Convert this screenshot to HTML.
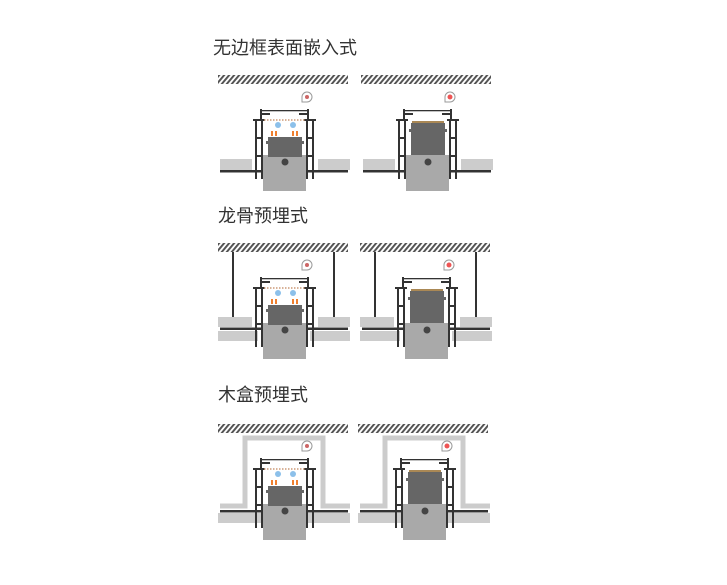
<!DOCTYPE html>
<html><head><meta charset="utf-8"><style>
html,body{margin:0;padding:0;background:#fff;width:727px;height:585px;overflow:hidden}
svg{display:block}
text{font-family:"Liberation Sans","Noto Sans CJK SC",sans-serif;fill:#333;font-size:18px}
</style></head><body>
<svg width="727" height="585" viewBox="0 0 727 585" xmlns="http://www.w3.org/2000/svg">
<defs>
<pattern id="h" width="5" height="9" patternUnits="userSpaceOnUse" patternTransform="skewX(-40)">
<rect width="5" height="9" fill="#fff"/><rect width="2.6" height="9" fill="#555"/>
</pattern>
<g id="bl">
<rect x="2" y="0" width="43" height="2.5" fill="#333"/>
<rect x="88" y="0" width="42" height="2.5" fill="#333"/>
</g>
<g id="fix">
<rect x="37" y="44" width="2" height="60" fill="#333"/>
<rect x="43" y="44" width="2" height="60" fill="#333"/>
<rect x="88" y="44" width="2" height="60" fill="#333"/>
<rect x="94" y="44" width="2" height="60" fill="#333"/>
<rect x="35" y="44" width="12" height="2" fill="#333"/>
<rect x="86" y="44" width="12" height="2" fill="#333"/>
<rect x="39" y="62" width="5" height="2" fill="#333"/><rect x="89" y="62" width="5" height="2" fill="#333"/>
<rect x="39" y="80" width="5" height="2" fill="#333"/><rect x="89" y="80" width="5" height="2" fill="#333"/>
<rect x="42" y="34" width="2" height="12" fill="#333"/><rect x="89" y="34" width="2" height="12" fill="#333"/>
<rect x="42" y="35" width="49" height="1.3" fill="#333"/>
<rect x="44" y="38" width="8" height="2" fill="#333"/><rect x="81" y="38" width="8" height="2" fill="#333"/>
<rect x="45" y="80" width="43" height="36" fill="#a9a9a9"/>
<circle cx="67" cy="87" r="3.5" fill="#444"/>
</g>
<g id="modA">
<line x1="46" y1="45" x2="88" y2="45" stroke="#c97" stroke-width="1.5" stroke-dasharray="1.5 1.5"/>
<circle cx="60" cy="50" r="3" fill="#8cc0ea"/><circle cx="75" cy="50" r="3" fill="#8cc0ea"/>
<rect x="53" y="56" width="2" height="5" fill="#f08030"/><rect x="57" y="56" width="2" height="5" fill="#f08030"/>
<rect x="74" y="56" width="2" height="5" fill="#f08030"/><rect x="78" y="56" width="2" height="5" fill="#f08030"/>
<rect x="50" y="62" width="34" height="20" fill="#666"/>
<rect x="48" y="66" width="38" height="3" fill="#666"/>
<path d="M84 27 L84 22 A5 5 0 1 1 89 27 Z" fill="#fff" stroke="#999"/><circle cx="89" cy="22" r="2" fill="#c66"/>
</g>
<g id="modB">
<rect x="51" y="46" width="32" height="2" fill="#a85"/>
<rect x="50" y="48" width="34" height="32" fill="#666"/>
<rect x="48" y="54" width="38" height="3" fill="#666"/>
<path d="M84 27 L84 22 A5 5 0 1 1 89 27 Z" fill="#fff" stroke="#999"/><circle cx="89" cy="22" r="2.5" fill="#e55"/>
</g>
</defs>

<text x="213" y="54">无边框表面嵌入式</text>
<text x="218" y="222">龙骨预埋式</text>
<text x="218" y="401">木盒预埋式</text>

<g transform="translate(218,75)">
<rect x="0" y="0" width="130" height="9" fill="url(#h)"/>
<rect x="2" y="84" width="32" height="11" fill="#ccc"/><rect x="100" y="84" width="32" height="11" fill="#ccc"/>
<use href="#fix"/><use href="#modA"/><use href="#bl" y="95"/>
</g>
<g transform="translate(361,75)">
<rect x="0" y="0" width="130" height="9" fill="url(#h)"/>
<rect x="2" y="84" width="32" height="11" fill="#ccc"/><rect x="100" y="84" width="32" height="11" fill="#ccc"/>
<use href="#fix"/><use href="#modB"/><use href="#bl" y="95"/>
</g>

<g transform="translate(218,243)">
<rect x="0" y="0" width="130" height="9" fill="url(#h)"/>
<rect x="14" y="9" width="2" height="65" fill="#333"/><rect x="115" y="9" width="2" height="65" fill="#333"/>
<rect x="0" y="74" width="34" height="10" fill="#ccc"/><rect x="100" y="74" width="32" height="10" fill="#ccc"/>
<rect x="0" y="88" width="40" height="10" fill="#ccc"/><rect x="92" y="88" width="40" height="10" fill="#ccc"/>
<use href="#fix"/><use href="#modA"/><use href="#bl" y="84.5"/>
</g>
<g transform="translate(360,243)">
<rect x="0" y="0" width="130" height="9" fill="url(#h)"/>
<rect x="14" y="9" width="2" height="65" fill="#333"/><rect x="115" y="9" width="2" height="65" fill="#333"/>
<rect x="0" y="74" width="34" height="10" fill="#ccc"/><rect x="100" y="74" width="32" height="10" fill="#ccc"/>
<rect x="0" y="88" width="40" height="10" fill="#ccc"/><rect x="92" y="88" width="40" height="10" fill="#ccc"/>
<use href="#fix"/><use href="#modB"/><use href="#bl" y="84.5"/>
</g>

<g transform="translate(218,424)">
<rect x="0" y="0" width="130" height="9" fill="url(#h)"/>
<path d="M2 82 H27 V14 H105 V82 H132" fill="none" stroke="#ccc" stroke-width="5"/>
<rect x="0" y="89" width="132" height="10" fill="#ccc"/>
<use href="#fix"/><use href="#modA"/><use href="#bl" y="86"/>
</g>
<g transform="translate(358,424)">
<rect x="0" y="0" width="130" height="9" fill="url(#h)"/>
<path d="M2 82 H27 V14 H105 V82 H132" fill="none" stroke="#ccc" stroke-width="5"/>
<rect x="0" y="89" width="132" height="10" fill="#ccc"/>
<use href="#fix"/><use href="#modB"/><use href="#bl" y="86"/>
</g>
</svg>
</body></html>
